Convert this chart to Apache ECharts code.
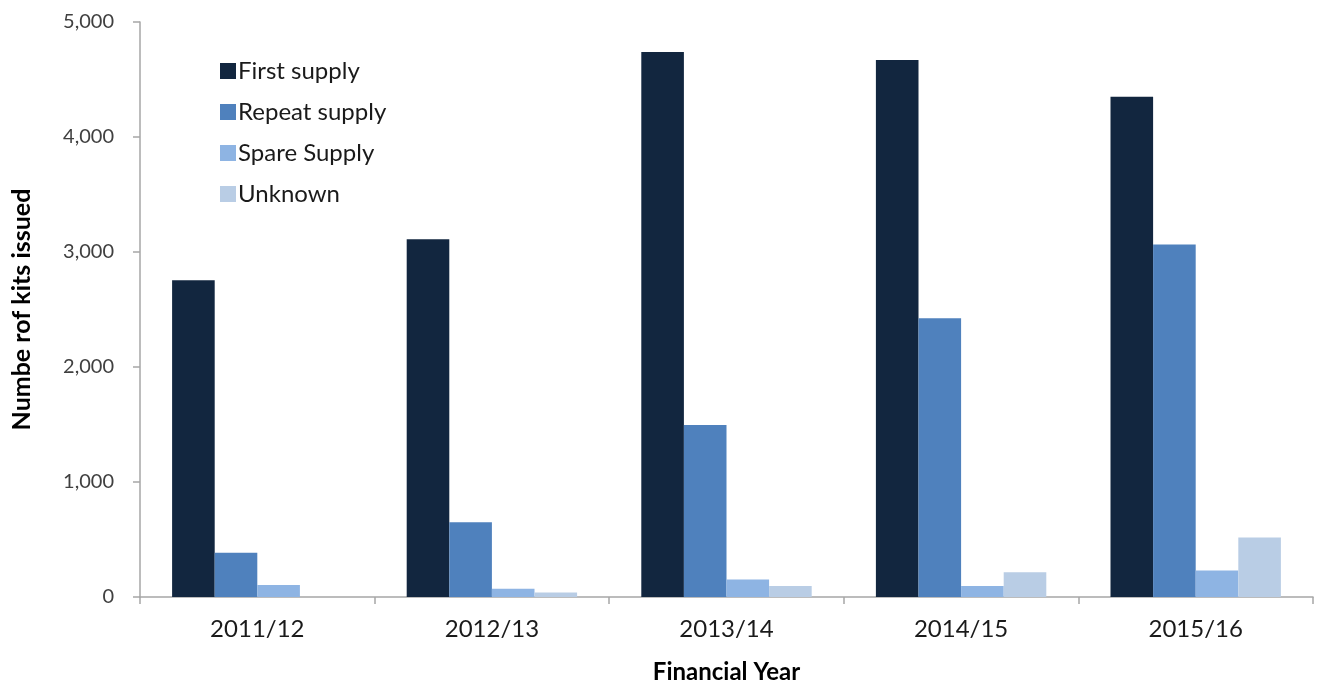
<!DOCTYPE html>
<html>
<head>
<meta charset="utf-8">
<script src="https://cdn.jsdelivr.net/npm/echarts@6/dist/echarts.min.js"></script>
<style>
  html, body { margin: 0; padding: 0; background: #fff; }
  #chart { width: 1317px; height: 686px; }
</style>
</head>
<body>
<div id="chart"></div>
<script>
// Kits issued per financial year, split by supply type
const years = ['2011/12', '2012/13', '2013/14', '2014/15', '2015/16'];
const firstSupply  = [2755, 3110, 4740, 4670, 4350];
const repeatSupply = [385, 650, 1495, 2425, 3065];
const spareSupply  = [105, 72, 152, 96, 230];
const unknown      = [0, 40, 95, 215, 518];

const seriesNames  = ['First supply', 'Repeat supply', 'Spare Supply', 'Unknown'];
const seriesValues = [firstSupply, repeatSupply, spareSupply, unknown];
const seriesColors = ['#12263f', '#4f81bd', '#8eb4e3', '#b9cde5'];

const FONT = 'Lato, "Open Sans", sans-serif';

const chart = echarts.init(document.getElementById('chart'), null, { renderer: 'canvas' });

chart.setOption({
  animation: false,
  backgroundColor: '#ffffff',
  grid: { left: 140, right: 4, top: 22, bottom: 89, containLabel: false, outerBoundsMode: 'none' },
  legend: {
    orient: 'vertical',
    left: 215,
    top: 54,
    itemWidth: 16,
    itemHeight: 16,
    itemGap: 17,
    icon: 'rect',
    textStyle: { fontFamily: FONT, fontSize: 24, color: '#1a1a1a', padding: [0, 0, 0, -3] },
    data: seriesNames
  },
  xAxis: {
    type: 'category',
    data: years,
    name: 'Financial Year',
    nameLocation: 'middle',
    nameGap: 63,
    nameTextStyle: { fontFamily: FONT, fontSize: 24, fontWeight: 'bold', color: '#000' },
    axisLine: { lineStyle: { color: '#a6a6a6', width: 1.5 } },
    axisTick: { show: true, length: 7, lineStyle: { color: '#a6a6a6', width: 1.5 } },
    axisLabel: { fontFamily: FONT, fontSize: 24, color: '#1a1a1a', margin: 20 }
  },
  yAxis: {
    type: 'value',
    min: 0,
    max: 5000,
    interval: 1000,
    name: 'Numbe rof kits issued',
    nameLocation: 'middle',
    nameGap: 106,
    nameRotate: 90,
    nameTextStyle: { fontFamily: FONT, fontSize: 25, fontWeight: 'bold', color: '#000' },
    axisLine: { show: true, lineStyle: { color: '#a6a6a6', width: 1.5 } },
    axisTick: { show: true, length: 7, lineStyle: { color: '#a6a6a6', width: 1.5 } },
    splitLine: { show: false },
    axisLabel: {
      fontFamily: FONT, fontSize: 20, color: '#404040', margin: 26,
      formatter: v => v.toLocaleString('en-US')
    }
  },
  series: seriesNames.map((name, i) => ({
    name,
    type: 'bar',
    data: seriesValues[i],
    barWidth: 42.6,
    barGap: '0%',
    itemStyle: { color: seriesColors[i] }
  }))
});
</script>
</body>
</html>
